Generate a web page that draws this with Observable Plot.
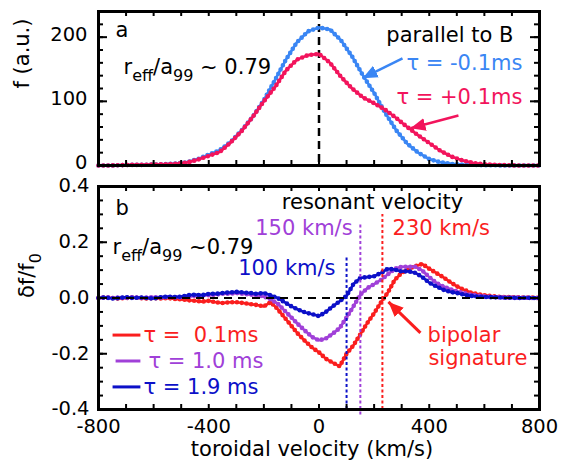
<!DOCTYPE html>
<html><head><meta charset="utf-8">
<script src="https://cdn.jsdelivr.net/npm/d3@7"></script>
<script src="https://cdn.jsdelivr.net/npm/@observablehq/plot@0.6"></script>
<style>body{margin:0;background:#fff} svg{display:block}</style>
</head><body><div id="chart"></div>
<script>
// ---------- data ----------
const velA = [-800,-760,-720,-680,-640,-600,-560,-520,-480,-440,-400,-360,-320,-280,-240,-200,-160,-120,-80,-40,0,40,80,120,160,200,240,280,320,360,400,440,480,520,560,600,640,680,720,760,800];
const fMinus01 = [0,0,0.5,1,1,1.5,2,3,5,10,17,24,37,55,76,102,133,165,192,209,215,212,195,170,140,113,82,55,34,20,10,5,2.5,1.5,1,0.5,0.3,0,0,0,0];
const fPlus01  = [0,0,0.5,1,1,1.5,2,2.5,4.5,9,15,21,36,54,76,100,122,148,165,172,174,160,138,120,106,97,87,74,60,47,35,23,14,8,4,2,1,0.5,0,0,0];

const velB = [-800,-775,-750,-725,-700,-675,-650,-625,-600,-575,-550,-525,-500,-475,-450,-425,-400,-375,-350,-325,-300,-275,-250,-225,-200,-175,-150,-125,-100,-75,-50,-25,0,25,50,75,100,125,150,175,200,225,250,275,300,325,350,375,400,425,450,475,500,525,550,575,600,625,650,675,700,725,750,775,800];
const df01 = [0,0.002,0,-0.002,0,0.002,0,-0.002,0,-0.002,0,-0.003,-0.005,-0.008,-0.01,-0.013,-0.01,-0.015,-0.018,-0.015,-0.015,-0.018,-0.022,-0.025,-0.03,-0.015,-0.04,-0.07,-0.1,-0.13,-0.155,-0.178,-0.195,-0.218,-0.232,-0.245,-0.2,-0.17,-0.13,-0.09,-0.055,-0.015,0.02,0.065,0.09,0.105,0.115,0.122,0.105,0.09,0.075,0.058,0.042,0.03,0.02,0.014,0.01,0.007,0.005,0.003,0.003,0.002,0.001,0.002,0];
const df10 = [0,0.002,0,0.002,0,0.003,0,0.002,0.003,0.002,0.003,0.003,0.003,0.005,0.008,0.01,0.01,0.012,0.015,0.015,0.018,0.015,0.012,0.01,0.005,-0.005,-0.02,-0.045,-0.07,-0.095,-0.118,-0.14,-0.152,-0.145,-0.128,-0.108,-0.07,-0.03,0.012,0.035,0.05,0.065,0.085,0.105,0.112,0.112,0.112,0.098,0.075,0.055,0.042,0.032,0.024,0.018,0.012,0.009,0.006,0.004,0.003,0.002,0.002,0.001,0.001,0,0];
const df19 = [0,0.002,-0.002,0,0.003,0,0.002,0,-0.002,0.003,0.005,0.003,0.005,0.01,0.012,0.01,0.015,0.015,0.018,0.02,0.022,0.02,0.018,0.015,0.018,0.01,0,-0.015,-0.03,-0.042,-0.052,-0.058,-0.065,-0.05,-0.03,-0.012,0.008,0.05,0.072,0.075,0.078,0.09,0.105,0.102,0.095,0.096,0.09,0.075,0.055,0.042,0.03,0.022,0.018,0.012,0.008,0.005,0.004,0.003,0.002,0.001,0.001,0,0.001,0,0];

const resonantVel = [100, 150, 230];

const xTickValues = [-800,-700,-600,-500,-400,-300,-200,-100,0,100,200,300,400,500,600,700,800];
const xTickLabels = [-800,-400,0,400,800];
const yTicksA = [0,20,40,60,80,100,120,140,160,180,200,220,240];
const yMajorA = [0,100,200];
const yTicksB = [-0.4,-0.35,-0.3,-0.25,-0.2,-0.15,-0.1,-0.05,0,0.05,0.1,0.15,0.2,0.25,0.3,0.35,0.4];
const yMajorB = [-0.4,-0.2,0,0.2,0.4];

// ---------- styles ----------
const FONT = "DejaVu Sans";
const BLUE_A = "#3a86f4", PINK_A = "#f2145c";
const RED_B = "#fa1e1e", PURPLE_B = "#a040d8", NAVY_B = "#0c10c8";
const W = 566, ML = 98, MR = 27;
const FW = W - ML - MR;
const TICK_FONT = 19.5;

function triMarker(color) {
  const m = d3.create("svg:marker")
    .attr("viewBox", "-15 -7 16 14")
    .attr("markerWidth", 16).attr("markerHeight", 14)
    .attr("markerUnits", "userSpaceOnUse")
    .attr("refX", 0).attr("refY", 0)
    .attr("orient", "auto");
  m.append("path").attr("d", "M0,0L-15,-6.5L-15,6.5Z").attr("fill", color).attr("stroke", "none");
  return m.node();
}

function beads(data, color) {
  return [
    Plot.line(data, {x: "v", y: "y", stroke: color, strokeWidth: 2.6, curve: "linear"}),
    Plot.line(data, {x: "v", y: "y", stroke: color, strokeWidth: 4.6, strokeDasharray: "0 4.8", strokeLinecap: "round", curve: "linear"})
  ];
}

function frameTicks(fh, yMinor, yMajor) {
  const o = {stroke: "black", strokeWidth: 2};
  return [
    Plot.ruleX(xTickValues, {x: d => d, insetTop: fh - 5, ...o}),
    Plot.ruleX(xTickValues, {x: d => d, insetBottom: fh - 5, ...o}),
    Plot.ruleY(yMinor, {y: d => d, insetRight: FW - 5, ...o}),
    Plot.ruleY(yMinor, {y: d => d, insetLeft: FW - 5, ...o}),
    Plot.ruleY(yMajor, {y: d => d, insetRight: FW - 9, ...o}),
    Plot.ruleY(yMajor, {y: d => d, insetLeft: FW - 9, ...o}),
    Plot.frame({stroke: "black", strokeWidth: 3})
  ];
}

function note(n, size = 21) {
  return Plot.text([n], {x: "v", y: "y", text: "label", fill: n.color || "black",
    textAnchor: n.anchor || "start", fontSize: size, fontFamily: FONT, lineAnchor: "middle"});
}

function subscripts(svg) {
  svg.querySelectorAll("text").forEach(t => {
    const s = t.textContent;
    if (!s.includes("_{")) return;
    const parts = s.split(/(_\{[^}]*\})/).filter(p => p);
    while (t.firstChild) t.removeChild(t.firstChild);
    let lowered = false;
    for (const p of parts) {
      const ts = document.createElementNS("http://www.w3.org/2000/svg", "tspan");
      if (p.startsWith("_{")) {
        ts.textContent = p.slice(2, -1);
        ts.setAttribute("font-size", "16");
        if (!lowered) ts.setAttribute("dy", "7");
        lowered = true;
      } else {
        ts.textContent = p;
        if (lowered) ts.setAttribute("dy", "-7");
        lowered = false;
      }
      t.appendChild(ts);
    }
  });
}

// ---------- panel a ----------
const serMinus = velA.map((v, i) => ({v, y: fMinus01[i]}));
const serPlus = velA.map((v, i) => ({v, y: fPlus01[i]}));
const notesA = [
  {v: -738, y: 210, label: "a"},
  {v: -709, y: 153, label: "r_{eff}/a_{99} ~ 0.79"},
  {v: 705, y: 203, label: "parallel to B", anchor: "end"},
  {v: 738, y: 160, label: "τ = -0.1ms", anchor: "end", color: BLUE_A},
  {v: 738, y: 106, label: "τ = +0.1ms", anchor: "end", color: PINK_A}
];
const arrowsA = [
  {v1: 303, y1: 167, v2: 158, y2: 136, color: BLUE_A},
  {v1: 506, y1: 78, v2: 332, y2: 58, color: PINK_A}
];

const plotA = Plot.plot({
  width: W, height: 176, marginTop: 11, marginBottom: 11, marginLeft: ML, marginRight: MR,
  style: {background: "white", fontFamily: FONT},
  x: {domain: [-800, 800], axis: null},
  y: {domain: [0, 240], axis: null},
  marks: [
    Plot.ruleX([0], {stroke: "black", strokeWidth: 2.5, strokeDasharray: "8 5"}),
    ...beads(serMinus, BLUE_A),
    ...beads(serPlus, PINK_A),
    ...arrowsA.map(a => Plot.link([a], {x1: "v1", y1: "y1", x2: "v2", y2: "y2", stroke: a.color, strokeWidth: 2.5, markerEnd: triMarker})),
    ...frameTicks(154, yTicksA, yMajorA),
    Plot.text(yMajorA, {y: d => d, frameAnchor: "left", dx: -11, dy: -2.5, textAnchor: "end", text: d => String(d), fontSize: TICK_FONT, fontFamily: FONT}),
    Plot.text(["f (a.u.)"], {frameAnchor: "left", dx: -76, rotate: -90, fontSize: 21, fontFamily: FONT}),
    ...notesA.map(n => note(n))
  ]
});

// ---------- panel b ----------
const ser01 = velB.map((v, i) => ({v, y: df01[i]}));
const ser10 = velB.map((v, i) => ({v, y: df10[i]}));
const ser19 = velB.map((v, i) => ({v, y: df19[i]}));
const resColors = [NAVY_B, PURPLE_B, RED_B];
const resTops = [0.15, 0.27, 0.30];
const resBottoms = [-0.4, -0.42, -0.4];
const resLines = resonantVel.map((v, i) => ({v, top: resTops[i], bottom: resBottoms[i], color: resColors[i]}));
const legendB = [
  {v1: -749, v2: -648, y: -0.133, color: RED_B},
  {v1: -738, v2: -648, y: -0.226, color: PURPLE_B},
  {v1: -749, v2: -648, y: -0.319, color: NAVY_B}
];
const notesB = [
  {v: -738, y: 0.323, label: "b"},
  {v: 194, y: 0.344, label: "resonant velocity", anchor: "middle"},
  {v: 122, y: 0.251, label: "150 km/s", anchor: "end", color: PURPLE_B},
  {v: 267, y: 0.251, label: "230 km/s", color: RED_B},
  {v: -749, y: 0.183, label: "r_{eff}/a_{99} ~0.79"},
  {v: 60, y: 0.108, label: "100 km/s", anchor: "end", color: NAVY_B},
  {v: -637, y: -0.133, label: "τ = \u00a00.1ms", color: RED_B},
  {v: -619, y: -0.226, label: "τ = 1.0 ms", color: PURPLE_B},
  {v: -637, y: -0.319, label: "τ = 1.9 ms", color: NAVY_B},
  {v: 394, y: -0.133, label: "bipolar", color: RED_B},
  {v: 397, y: -0.215, label: "signature", color: RED_B}
];
const arrowB = [{v1: 368, y1: -0.125, v2: 252, y2: -0.014, color: RED_B}];

const plotB = Plot.plot({
  width: W, height: 292, marginTop: 10, marginBottom: 59, marginLeft: ML, marginRight: MR,
  style: {background: "white", fontFamily: FONT, overflow: "visible"},
  x: {domain: [-800, 800], axis: null},
  y: {domain: [-0.4, 0.4], axis: null},
  marks: [
    ...beads(ser01, RED_B),
    ...beads(ser10, PURPLE_B),
    ...beads(ser19, NAVY_B),
    Plot.ruleY([0], {stroke: "black", strokeWidth: 2, strokeDasharray: "8 6"}),
    ...resLines.map(r => Plot.ruleX([r], {x: "v", y1: "bottom", y2: "top", stroke: r.color, strokeWidth: 2, strokeDasharray: "3 2.5"})),
    ...legendB.map(l => Plot.link([l], {x1: "v1", x2: "v2", y1: "y", y2: "y", stroke: l.color, strokeWidth: 3})),
    ...arrowB.map(a => Plot.link([a], {x1: "v1", y1: "y1", x2: "v2", y2: "y2", stroke: a.color, strokeWidth: 3, markerEnd: triMarker})),
    ...frameTicks(223, yTicksB, yMajorB),
    Plot.text(yMajorB, {y: d => d, frameAnchor: "left", dx: -9, dy: -0.5, textAnchor: "end", text: d => d.toFixed(1), fontSize: TICK_FONT, fontFamily: FONT}),
    Plot.text(xTickLabels, {x: d => d, frameAnchor: "bottom", dy: 23, text: d => String(d), fontSize: TICK_FONT, fontFamily: FONT}),
    Plot.text(["toroidal velocity (km/s)"], {frameAnchor: "bottom", dx: -7, dy: 46, fontSize: 21, fontFamily: FONT}),
    Plot.text(["δf/f_{0}"], {frameAnchor: "left", dx: -71, rotate: -90, fontSize: 21, fontFamily: FONT}),
    ...notesB.map(n => note(n))
  ]
});

subscripts(plotA);
subscripts(plotB);
const root = document.getElementById("chart");
root.appendChild(plotA);
root.appendChild(plotB);
</script>
</body></html>
